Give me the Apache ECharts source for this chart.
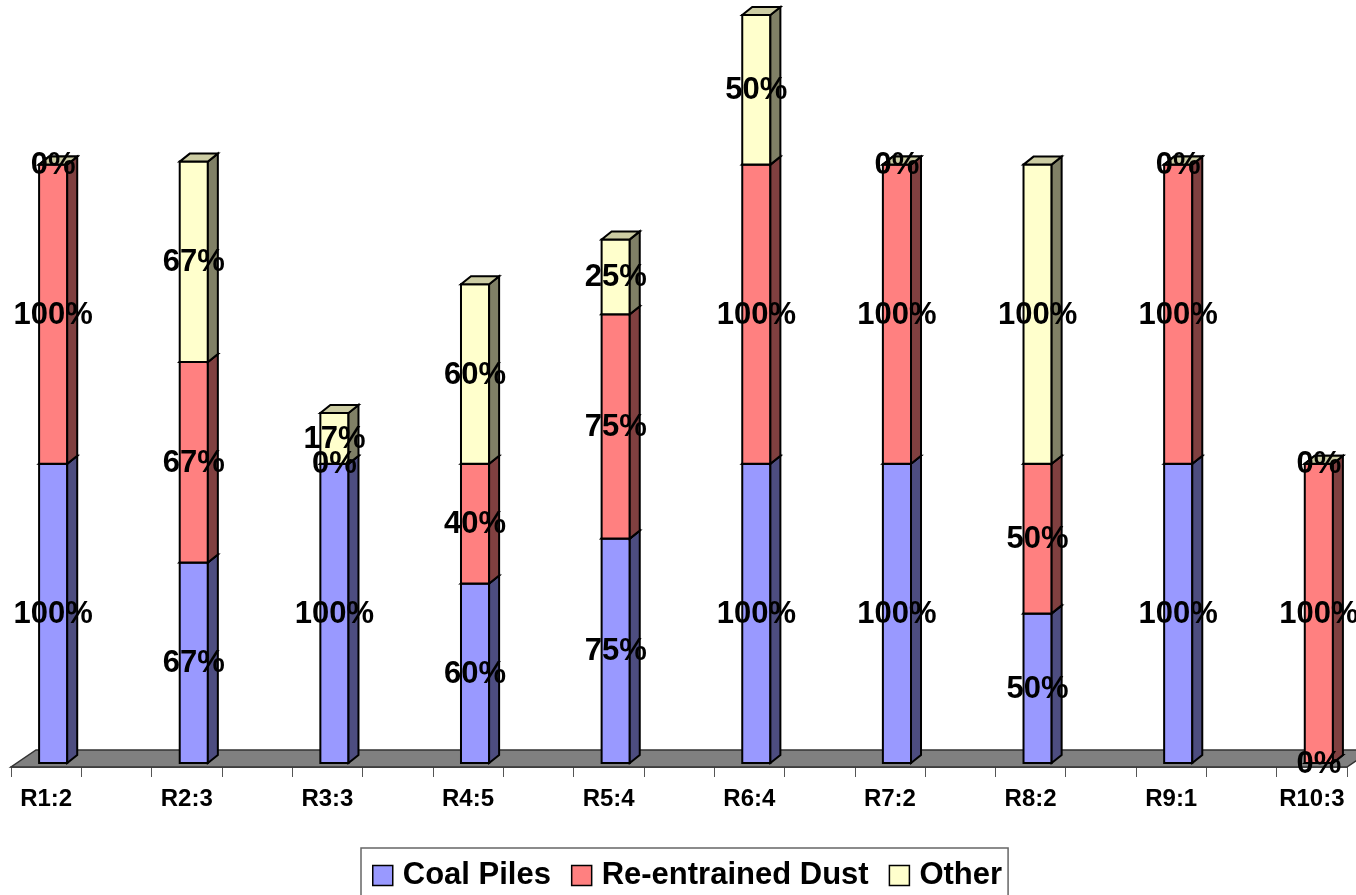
<!DOCTYPE html>
<html>
<head>
<meta charset="utf-8">
<script src="https://cdn.jsdelivr.net/npm/echarts@6/dist/echarts.min.js"></script>
<style>
  html, body { margin: 0; padding: 0; background: #fff; }
  #chart { width: 1356px; height: 895px; }
</style>
</head>
<body>
<div id="chart"></div>
<script>
// ---- data ----
const categories = ['R1:2', 'R2:3', 'R3:3', 'R4:5', 'R5:4', 'R6:4', 'R7:2', 'R8:2', 'R9:1', 'R10:3'];
const seriesNames = ['Coal Piles', 'Re-entrained Dust', 'Other'];
const coalPiles = [1.00, 0.67, 1.00, 0.60, 0.75, 1.00, 1.00, 0.50, 1.00, 0.00];
const reentrainedDust = [1.00, 0.67, 0.00, 0.40, 0.75, 1.00, 1.00, 0.50, 1.00, 1.00];
const other = [0.00, 0.67, 0.17, 0.60, 0.25, 0.50, 0.00, 1.00, 0.00, 0.00];

// ---- styles ----
const FONT = '"Liberation Sans", Arial, sans-serif';
const frontColors = ['#9999FF', '#FF8080', '#FFFFCC'];
const sideColors = ['#4D4D80', '#804040', '#808066'];
const topColors = ['#7A7ACC', '#CC6666', '#CCCCA3'];
const OFF_X = 7, OFF_Y = -4;     // bar front plane relative to floor front edge
const DX = 10, DY = 8;           // bar depth
const FLOOR_DX = 25, FLOOR_DY = 17;
const BAR_FRAC = 0.4;

// category slots: every other slot holds a category
const slotLabels = [];
categories.forEach((c, i) => { if (i > 0) slotLabels.push(''); slotLabels.push(c); });

const allValues = [coalPiles, reentrainedDust, other];
const segData = [[], [], []];
const labelData = [];
categories.forEach((c, i) => {
  let base = 0;
  allValues.forEach((arr, s) => {
    const v = arr[i];
    segData[s].push([i * 2, base, base + v, v, s]);
    labelData.push([i * 2, base, base + v, v, s]);
    base += v;
  });
});

function geom(api) {
  const slot = api.value(0);
  const pB = api.coord([slot, api.value(1)]);
  const pT = api.coord([slot, api.value(2)]);
  const w = api.size([1, 0])[0] * BAR_FRAC;
  const cx = pB[0] + OFF_X;
  return { cx, l: cx - w / 2, r: cx + w / 2, yb: pB[1] + OFF_Y, yt: pT[1] + OFF_Y };
}

function makeSegRender(s) {
  return function (params, api) {
    const g = geom(api);
    const stroke = { stroke: '#000', lineWidth: 2, lineJoin: 'miter' };
    const children = [];
    if (g.yb - g.yt > 0.5) {
      children.push({ type: 'rect', shape: { x: g.l, y: g.yt, width: g.r - g.l, height: g.yb - g.yt },
        style: Object.assign({ fill: frontColors[s] }, stroke) });
      children.push({ type: 'polygon', shape: { points: [[g.r, g.yb], [g.r + DX, g.yb - DY], [g.r + DX, g.yt - DY], [g.r, g.yt]] },
        style: Object.assign({ fill: sideColors[s] }, stroke) });
    }
    children.push({ type: 'polygon', shape: { points: [[g.l, g.yt], [g.r, g.yt], [g.r + DX, g.yt - DY], [g.l + DX, g.yt - DY]] },
      style: Object.assign({ fill: topColors[s] }, stroke) });
    return { type: 'group', children };
  };
}

function renderFloor(params, api) {
  const half = api.size([1, 0])[0] / 2;
  const a = api.coord([0, 0]);
  const b = api.coord([slotLabels.length - 1, 0]);
  const x0 = a[0] - half, x1 = b[0] + half, y = a[1];
  return {
    type: 'polygon',
    shape: { points: [[x0, y], [x1, y], [x1 + FLOOR_DX, y - FLOOR_DY], [x0 + FLOOR_DX, y - FLOOR_DY]] },
    style: { fill: '#808080', stroke: '#333', lineWidth: 1.5 }
  };
}

function renderLabel(params, api) {
  const g = geom(api);
  return {
    type: 'text',
    style: {
      text: Math.round(api.value(3) * 100) + '%',
      x: g.cx, y: (g.yb + g.yt) / 2 + 1,
      align: 'center', verticalAlign: 'middle',
      font: 'bold 31px ' + FONT, fill: '#000'
    }
  };
}

const series = [{
  type: 'custom', name: '__floor', renderItem: renderFloor, data: [[0]], z: 1, silent: true,
  encode: { x: 0 }
}];
seriesNames.forEach((n, s) => {
  series.push({
    type: 'custom', name: n, renderItem: makeSegRender(s), data: segData[s], z: 2,
    itemStyle: { color: frontColors[s] }, encode: { x: 0, y: [1, 2] }
  });
});
series.push({
  type: 'custom', name: '__labels', renderItem: renderLabel, data: labelData, z: 5, silent: true,
  encode: { x: 0, y: [1, 2] }
});

const chart = echarts.init(document.getElementById('chart'), null, { renderer: 'canvas' });
chart.setOption({
  animation: false,
  backgroundColor: '#fff',
  grid: { left: 11, right: 9, top: 19, bottom: 128, containLabel: false },
  xAxis: {
    type: 'category', data: slotLabels, boundaryGap: true,
    axisLine: { show: true, lineStyle: { color: '#333', width: 1.5 } },
    axisTick: { show: true, interval: 0, length: 10, lineStyle: { color: '#555', width: 1 } },
    axisLabel: { interval: 0, margin: 20, color: '#000', fontSize: 24, fontWeight: 'bold', fontFamily: FONT },
    splitLine: { show: false }
  },
  yAxis: { type: 'value', min: 0, max: 2.5, show: false },
  legend: {
    data: seriesNames,
    left: 361, top: 848,
    orient: 'horizontal',
    icon: 'rect', itemWidth: 20, itemHeight: 20, itemGap: 20,
    itemStyle: { borderColor: '#000', borderWidth: 1.5 },
    padding: [12, 6, 20, 11],
    borderColor: '#666', borderWidth: 1.5, backgroundColor: '#fff',
    textStyle: { color: '#000', fontSize: 31, fontWeight: 'bold', fontFamily: FONT, padding: [0, 0, 0, 5] }
  },
  series
});
</script>
</body>
</html>
